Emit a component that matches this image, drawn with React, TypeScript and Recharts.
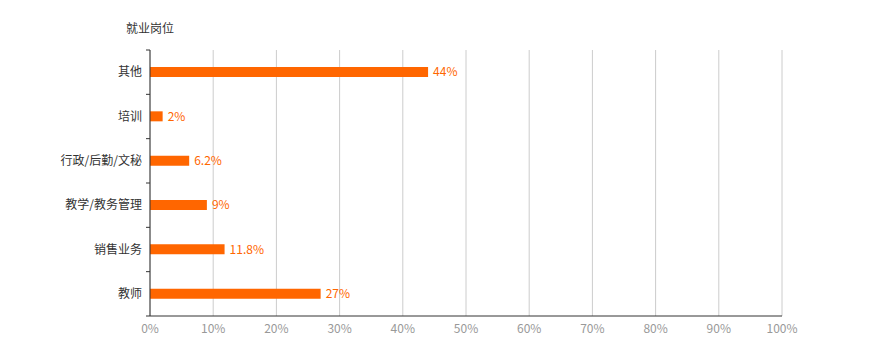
import React from "react";
import {
  Bar,
  BarChart,
  CartesianGrid,
  LabelList,
  XAxis,
  YAxis,
} from "recharts";

const categories = ["其他", "培训", "行政/后勤/文秘", "教学/教务管理", "销售业务", "教师"];
const shares = [44, 2, 6.2, 9, 11.8, 27];
const percentTicks = [0, 10, 20, 30, 40, 50, 60, 70, 80, 90, 100];

const data = categories.map((name, i) => ({ name, value: shares[i] }));

const WIDTH = 883;
const HEIGHT = 355;
const MARGIN = { top: 50, right: 101, bottom: 9, left: 0 };
const Y_AXIS_WIDTH = 150;
const X_AXIS_HEIGHT = 30;
const PLOT_HEIGHT = HEIGHT - MARGIN.top - MARGIN.bottom - X_AXIS_HEIGHT;
const BAND = PLOT_HEIGHT / categories.length;

const FONT = '"Noto Sans CJK SC", "Noto Sans", sans-serif';
const ORANGE = "#ff6600";

// category label plus a tick mark on the band boundaries
function CategoryTick(props: any) {
  const { x, y, payload, index } = props;
  const axisX = Y_AXIS_WIDTH;
  return (
    <g>
      <line x1={axisX - 4} x2={axisX} y1={y - BAND / 2} y2={y - BAND / 2} stroke="#333" />
      {index === categories.length - 1 && (
        <line x1={axisX - 4} x2={axisX} y1={y + BAND / 2} y2={y + BAND / 2} stroke="#333" />
      )}
      <text
        x={x}
        y={y}
        dy="0.355em"
        textAnchor="end"
        fill="#333"
        fontSize={12}
        fontFamily={FONT}
      >
        {payload.value}
      </text>
    </g>
  );
}

export default function App() {
  return (
    <div
      style={{
        position: "absolute",
        left: 0,
        top: 0,
        width: WIDTH,
        height: HEIGHT,
        background: "#fff",
        fontFamily: FONT,
      }}
    >
      <div
        style={{
          position: "absolute",
          left: 126,
          top: 19,
          fontSize: 12,
          lineHeight: "18px",
          color: "#333",
        }}
      >
        就业岗位
      </div>
      <BarChart
        width={WIDTH}
        height={HEIGHT}
        data={data}
        layout="vertical"
        margin={MARGIN}
      >
        <CartesianGrid horizontal={false} stroke="#ccc" />
        <XAxis
          type="number"
          domain={[0, 100]}
          ticks={percentTicks}
          interval={0}
          height={X_AXIS_HEIGHT}
          tickFormatter={(v) => `${v}%`}
          tick={{ fill: "#999", fontSize: 12, fontFamily: FONT }}
          tickLine={false}
          axisLine={{ stroke: "#333" }}
          tickSize={6}
          tickMargin={2}
        />
        <YAxis
          type="category"
          dataKey="name"
          width={Y_AXIS_WIDTH}
          interval={0}
          tickLine={false}
          axisLine={{ stroke: "#333" }}
          tickSize={4}
          tickMargin={4}
          tick={<CategoryTick />}
        />
        <Bar dataKey="value" fill={ORANGE} barSize={10} isAnimationActive={false}>
          <LabelList
            dataKey="value"
            position="right"
            offset={5}
            formatter={(v: any) => `${v}%`}
            fill={ORANGE}
            fontSize={12}
            fontFamily={FONT}
          />
        </Bar>
      </BarChart>
    </div>
  );
}
